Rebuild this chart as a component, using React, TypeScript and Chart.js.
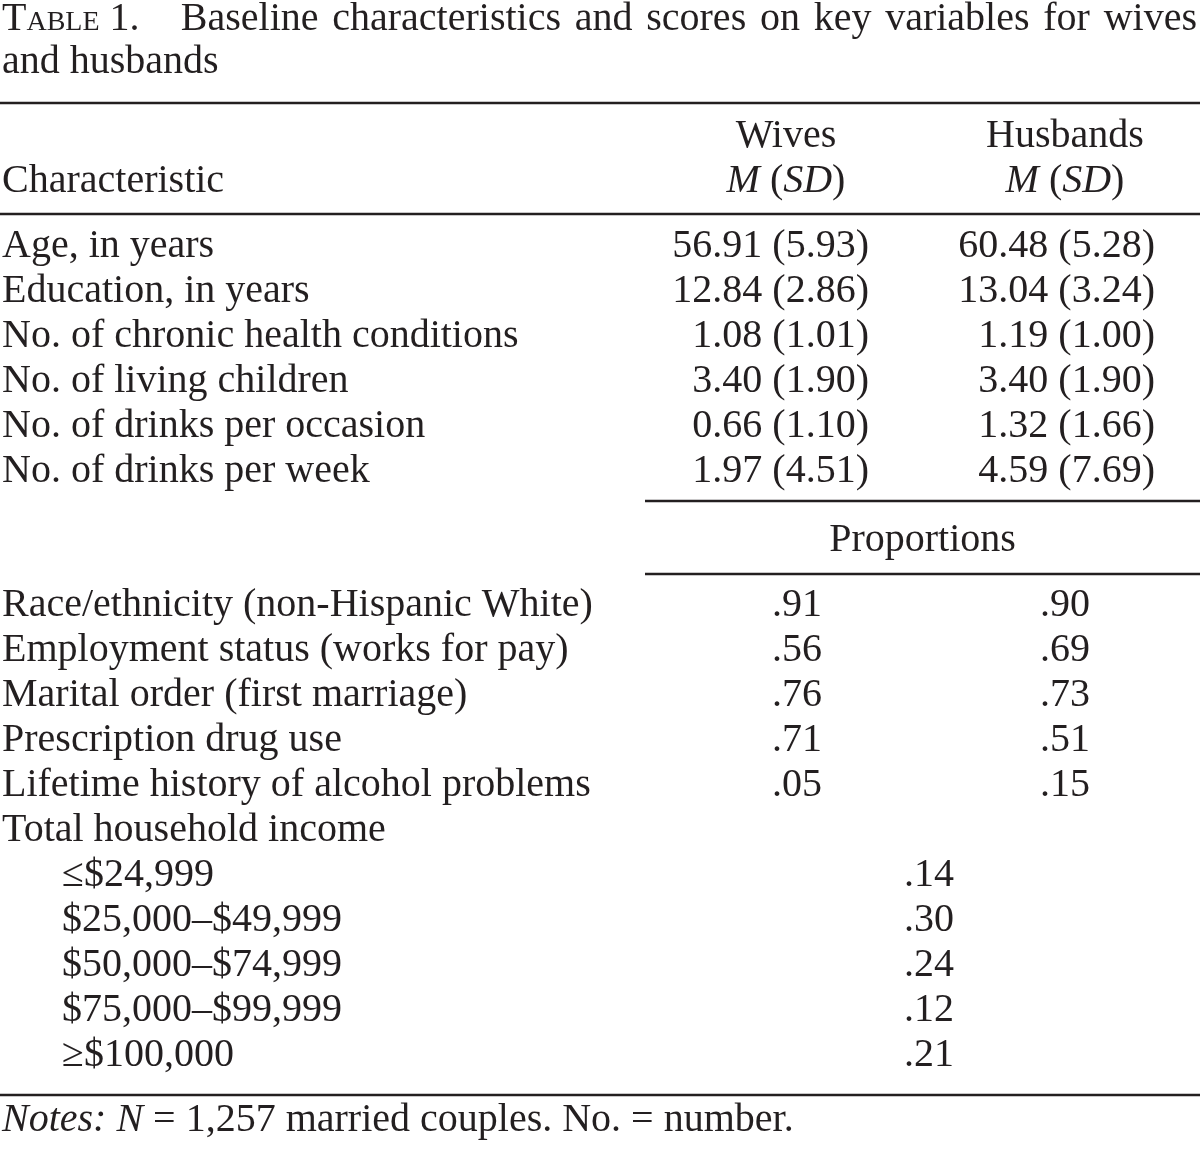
import React, { useEffect, useRef } from "react";
import { Chart, registerables } from "chart.js";

Chart.register(...registerables);

// ---------- DATA ----------
const tableNumber = "1.";
const titleLine1Words = ["Baseline", "characteristics", "and", "scores", "on", "key", "variables", "for", "wives"];
const titleLine2 = "and husbands";

const columnHeaders = ["Wives", "Husbands"];
const stubHeader = "Characteristic";

const characteristics = [
  "Age, in years",
  "Education, in years",
  "No. of chronic health conditions",
  "No. of living children",
  "No. of drinks per occasion",
  "No. of drinks per week",
];
const wivesMean = [56.91, 12.84, 1.08, 3.4, 0.66, 1.97];
const wivesSD = [5.93, 2.86, 1.01, 1.9, 1.1, 4.51];
const husbandsMean = [60.48, 13.04, 1.19, 3.4, 1.32, 4.59];
const husbandsSD = [5.28, 3.24, 1.0, 1.9, 1.66, 7.69];

const proportionsHeader = "Proportions";
const proportionLabels = [
  "Race/ethnicity (non-Hispanic White)",
  "Employment status (works for pay)",
  "Marital order (first marriage)",
  "Prescription drug use",
  "Lifetime history of alcohol problems",
];
const wivesProportion = [0.91, 0.56, 0.76, 0.71, 0.05];
const husbandsProportion = [0.9, 0.69, 0.73, 0.51, 0.15];

const incomeHeader = "Total household income";
const incomeLabels = ["≤$24,999", "$25,000–$49,999", "$50,000–$74,999", "$75,000–$99,999", "≥$100,000"];
const incomeProportion = [0.14, 0.3, 0.24, 0.12, 0.21];

const noteRuns = [
  { t: "Notes:", i: true },
  { t: " " },
  { t: "N", i: true },
  { t: " = 1,257 married couples. No. = number." },
];

// ---------- LAYOUT / STYLE ----------
const W = 1200;
const H = 1149;
const INK = "#231f20";
const FAMILY = '"Liberation Serif", "Times New Roman", serif';
const SIZE = 40;
const SMALLCAP = 28;

const POS = {
  left: 2,
  right: 1197,
  indent: 62,
  wivesRight: 869,
  husbRight: 1155,
  wivesHeadCenter: 786,
  husbHeadCenter: 1065,
  wivesPropCenter: 797,
  husbPropCenter: 1065,
  incomeCenter: 929,
  subRuleLeft: 645,
  title1: 30,
  title2: 73,
  rule1: 103,
  head1: 147,
  head2: 192,
  rule2: 214,
  rowsStart: 257,
  step: 45,
  rule3: 501,
  propHead: 551,
  rule4: 574,
  propStart: 616,
  rule5: 1095,
  notes: 1131,
};

type Run = { t: string; i?: boolean };

function fnt(size: number, italic?: boolean) {
  return `${italic ? "italic " : ""}${size}px ${FAMILY}`;
}

function runsWidth(ctx: CanvasRenderingContext2D, runs: Run[], size = SIZE) {
  let w = 0;
  for (const r of runs) {
    ctx.font = fnt(size, r.i);
    w += ctx.measureText(r.t).width;
  }
  return w;
}

function drawRuns(
  ctx: CanvasRenderingContext2D,
  runs: Run[],
  x: number,
  y: number,
  align: "left" | "center" | "right" = "left",
  size = SIZE
) {
  const w = runsWidth(ctx, runs, size);
  let cx = align === "left" ? x : align === "center" ? x - w / 2 : x - w;
  ctx.textAlign = "left";
  for (const r of runs) {
    ctx.font = fnt(size, r.i);
    ctx.fillText(r.t, cx, y);
    cx += ctx.measureText(r.t).width;
  }
}

const fmtMean = (m: number, s: number) => `${m.toFixed(2)} (${s.toFixed(2)})`;
const fmtProp = (p: number) => p.toFixed(2).replace(/^0/, "");

const tablePlugin = {
  id: "tableDraw",
  beforeDraw(chart: any) {
    const ctx: CanvasRenderingContext2D = chart.ctx;
    ctx.save();
    ctx.fillStyle = "#ffffff";
    ctx.fillRect(0, 0, chart.width, chart.height);
    ctx.restore();
  },
  afterDraw(chart: any) {
    const ctx: CanvasRenderingContext2D = chart.ctx;
    const xs = chart.scales.x;
    const ys = chart.scales.y;
    const X = (v: number) => xs.getPixelForValue(v);
    const Y = (v: number) => ys.getPixelForValue(v);

    ctx.save();
    ctx.fillStyle = INK;
    ctx.strokeStyle = INK;
    ctx.textBaseline = "alphabetic";

    const hRule = (y: number, x0: number, x1: number) => {
      ctx.beginPath();
      ctx.lineWidth = 2.4;
      ctx.moveTo(X(x0), Y(y));
      ctx.lineTo(X(x1), Y(y));
      ctx.stroke();
    };

    // Title line 1 (justified, small caps label)
    const prefix: { t: string; s: number }[] = [
      { t: "T", s: SIZE },
      { t: "ABLE", s: SMALLCAP },
      { t: " " + tableNumber, s: SIZE },
    ];
    let px = X(POS.left);
    let prefixW = 0;
    for (const p of prefix) {
      ctx.font = fnt(p.s);
      prefixW += ctx.measureText(p.t).width;
    }
    for (const p of prefix) {
      ctx.font = fnt(p.s);
      ctx.fillText(p.t, px, Y(POS.title1));
      px += ctx.measureText(p.t).width;
    }
    ctx.font = fnt(SIZE);
    const widths = titleLine1Words.map((w) => ctx.measureText(w).width);
    const total = widths.reduce((a, b) => a + b, 0);
    const avail = X(POS.right) - X(POS.left) - prefixW - total;
    const leadUnits = 3;
    const gapUnits = leadUnits + (titleLine1Words.length - 1);
    const gap = avail / gapUnits;
    let wx = X(POS.left) + prefixW + gap * leadUnits;
    titleLine1Words.forEach((w, i) => {
      ctx.fillText(w, wx, Y(POS.title1));
      wx += widths[i] + gap;
    });
    drawRuns(ctx, [{ t: titleLine2 }], X(POS.left), Y(POS.title2));

    // Rules
    hRule(POS.rule1, 0, W);
    hRule(POS.rule2, 0, W);
    hRule(POS.rule3, POS.subRuleLeft, W);
    hRule(POS.rule4, POS.subRuleLeft, W);
    hRule(POS.rule5, 0, W);

    // Headers
    drawRuns(ctx, [{ t: columnHeaders[0] }], X(POS.wivesHeadCenter), Y(POS.head1), "center");
    drawRuns(ctx, [{ t: columnHeaders[1] }], X(POS.husbHeadCenter), Y(POS.head1), "center");
    const msd: Run[] = [{ t: "M", i: true }, { t: " (" }, { t: "SD", i: true }, { t: ")" }];
    drawRuns(ctx, msd, X(POS.wivesHeadCenter), Y(POS.head2), "center");
    drawRuns(ctx, msd, X(POS.husbHeadCenter), Y(POS.head2), "center");
    drawRuns(ctx, [{ t: stubHeader }], X(POS.left), Y(POS.head2));

    // Means
    characteristics.forEach((label, i) => {
      const y = Y(POS.rowsStart + i * POS.step);
      drawRuns(ctx, [{ t: label }], X(POS.left), y);
      drawRuns(ctx, [{ t: fmtMean(wivesMean[i], wivesSD[i]) }], X(POS.wivesRight), y, "right");
      drawRuns(ctx, [{ t: fmtMean(husbandsMean[i], husbandsSD[i]) }], X(POS.husbRight), y, "right");
    });

    // Proportions
    drawRuns(
      ctx,
      [{ t: proportionsHeader }],
      X((POS.subRuleLeft + W) / 2),
      Y(POS.propHead),
      "center"
    );
    proportionLabels.forEach((label, i) => {
      const y = Y(POS.propStart + i * POS.step);
      drawRuns(ctx, [{ t: label }], X(POS.left), y);
      drawRuns(ctx, [{ t: fmtProp(wivesProportion[i]) }], X(POS.wivesPropCenter), y, "center");
      drawRuns(ctx, [{ t: fmtProp(husbandsProportion[i]) }], X(POS.husbPropCenter), y, "center");
    });

    const incomeHeadY = POS.propStart + proportionLabels.length * POS.step;
    drawRuns(ctx, [{ t: incomeHeader }], X(POS.left), Y(incomeHeadY));
    incomeLabels.forEach((label, i) => {
      const y = Y(incomeHeadY + (i + 1) * POS.step);
      drawRuns(ctx, [{ t: label }], X(POS.indent), y);
      drawRuns(ctx, [{ t: fmtProp(incomeProportion[i]) }], X(POS.incomeCenter), y, "center");
    });

    // Notes
    drawRuns(ctx, noteRuns, X(POS.left), Y(POS.notes));

    ctx.restore();
  },
};

export default function App() {
  const ref = useRef<HTMLCanvasElement | null>(null);

  useEffect(() => {
    if (!ref.current) return;
    const chart = new Chart(ref.current, {
      type: "scatter",
      data: { datasets: [] },
      options: {
        responsive: false,
        animation: false,
        events: [],
        layout: { padding: 0 },
        plugins: {
          legend: { display: false },
          tooltip: { enabled: false },
          title: { display: false },
        },
        scales: {
          x: { type: "linear", min: 0, max: W, display: false },
          y: { type: "linear", min: 0, max: H, reverse: true, display: false },
        },
      },
      plugins: [tablePlugin],
    } as any);
    return () => chart.destroy();
  }, []);

  return (
    <div style={{ position: "absolute", left: 0, top: 0, width: W, height: H, background: "#fff" }}>
      <canvas ref={ref} width={W} height={H} style={{ display: "block", width: W, height: H }} />
    </div>
  );
}
